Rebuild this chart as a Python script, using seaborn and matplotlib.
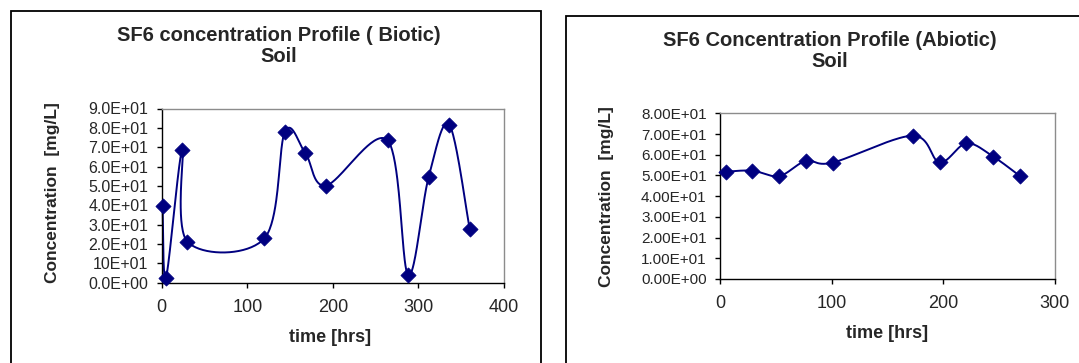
import numpy as np
import pandas as pd
import matplotlib
matplotlib.use("Agg")
import matplotlib.pyplot as plt
from matplotlib.patches import Rectangle
import seaborn as sns

# ---- data ----
biotic_time = [1, 5, 24, 30, 120, 144, 168, 192, 264, 288, 312, 336, 360]
biotic_conc = [39.6, 2.6, 68.8, 21.2, 22.9, 78.0, 66.8, 50.2, 73.5, 4.0, 54.7, 81.7, 27.5]

abiotic_time = [5, 29, 53, 77, 101, 173, 197, 221, 245, 269]
abiotic_conc = [51.8, 52.3, 49.7, 57.0, 56.2, 69.2, 56.3, 65.5, 59.1, 49.7]

biotic_yticks = [0, 10, 20, 30, 40, 50, 60, 70, 80, 90]
biotic_ylabels = ["0.0E+00", "10E+01", "2.0E+01", "3.0E+01", "4.0E+01", "5.0E+01",
                  "6.0E+01", "7.0E+01", "8.0E+01", "9.0E+01"]
abiotic_yticks = [0, 10, 20, 30, 40, 50, 60, 70, 80]
abiotic_ylabels = ["0.00E+00", "1.00E+01", "2.00E+01", "3.00E+01", "4.00E+01",
                   "5.00E+01", "6.00E+01", "7.00E+01", "8.00E+01"]
biotic_xticks = [0, 100, 200, 300, 400]
abiotic_xticks = [0, 100, 200, 300]

title_biotic = "SF6 concentration Profile ( Biotic)\nSoil"
title_abiotic = "SF6 Concentration Profile (Abiotic)\nSoil"
ylabel = "Concentration  [mg/L]"
xlabel = "time [hrs]"

NAVY = "#000080"

sns.set_theme(style="white")
plt.rcParams["font.family"] = ["Liberation Sans", "DejaVu Sans"]


def excel_smooth(xs, ys, n=40):
    """Excel-style smoothed line (cubic Bezier, Catmull-Rom control points)."""
    P = np.column_stack([xs, ys]).astype(float)
    m = len(P)
    out = []
    for i in range(m - 1):
        p0 = P[i - 1] if i > 0 else P[i]
        p1 = P[i]
        p2 = P[i + 1]
        p3 = P[i + 2] if i + 2 < m else P[i + 1]
        c1 = p1 + (p2 - p0) / 6.0
        c2 = p2 - (p3 - p1) / 6.0
        t = np.linspace(0, 1, n, endpoint=(i == m - 2))[:, None]
        seg = ((1 - t) ** 3) * p1 + 3 * ((1 - t) ** 2) * t * c1 + 3 * (1 - t) * t ** 2 * c2 + t ** 3 * p2
        out.append(seg)
    out = np.vstack(out)
    return pd.DataFrame({"x": out[:, 0], "y": out[:, 1], "order": np.arange(len(out))})


fig = plt.figure(figsize=(10.79, 3.63), dpi=100)
W, H = 1079.0, 363.0

# outer chart frames
fig.patches.append(Rectangle((10.5 / W, -0.01), (541 - 10.5) / W, (363 - 11) / H + 0.01,
                             transform=fig.transFigure, fill=False, edgecolor="black", lw=1.3))
fig.patches.append(Rectangle((566 / W, -0.01), (1085 - 566) / W, (363 - 15.5) / H + 0.01,
                             transform=fig.transFigure, fill=False, edgecolor="black", lw=1.3))


def make_panel(rect, t, c, xticks, yticks, ylabels, xlim, ylim, ytick_fs):
    ax = fig.add_axes(rect)
    curve = excel_smooth(t, c)
    sns.lineplot(data=curve, x="x", y="y", sort=False, estimator=None, color=NAVY,
                 lw=1.4, ax=ax, clip_on=False)
    sns.scatterplot(x=t, y=c, marker="D", s=60, color=NAVY, edgecolor=NAVY,
                    linewidth=0.5, ax=ax, zorder=5, clip_on=False)
    ax.set_xlim(*xlim)
    ax.set_ylim(*ylim)
    ax.set_xticks(xticks)
    ax.set_xticklabels([str(v) for v in xticks], fontsize=13)
    ax.set_yticks(yticks)
    ax.set_yticklabels(ylabels, fontsize=ytick_fs)
    ax.set_xlabel("")
    ax.set_ylabel("")
    for side in ["top", "right"]:
        ax.spines[side].set_color("#8c8c8c")
        ax.spines[side].set_linewidth(1.0)
    for side in ["left", "bottom"]:
        ax.spines[side].set_color("black")
        ax.spines[side].set_linewidth(1.0)
    ax.tick_params(axis="both", direction="out", length=3.6, width=1, color="black",
                   bottom=True, left=True)
    ax.tick_params(axis="y", pad=6)
    ax.tick_params(axis="x", pad=8)
    return ax


ax1 = make_panel([161.7 / W, 1 - 282.7 / H, (504 - 161.7) / W, (282.7 - 108.5) / H],
                 biotic_time, biotic_conc, biotic_xticks, biotic_yticks, biotic_ylabels,
                 (0, 400), (0, 90), 11.5)
ax2 = make_panel([720 / W, 1 - 279 / H, (1054.5 - 720) / W, (279 - 113.3) / H],
                 abiotic_time, abiotic_conc, abiotic_xticks, abiotic_yticks, abiotic_ylabels,
                 (0, 300), (0, 80), 11)

# titles and axis labels
fig.text(279 / W, 1 - 46 / H, title_biotic, ha="center", va="center", fontsize=14.5,
         fontweight="bold", linespacing=1.15)
fig.text(830 / W, 1 - 51 / H, title_abiotic, ha="center", va="center", fontsize=14.5,
         fontweight="bold", linespacing=1.15)
fig.text(53 / W, 1 - 193 / H, ylabel, rotation=90, ha="center", va="center",
         fontsize=12.5, fontweight="bold")
fig.text(607 / W, 1 - 197 / H, ylabel, rotation=90, ha="center", va="center",
         fontsize=12.5, fontweight="bold")
fig.text(330.5 / W, 1 - 338 / H, xlabel, ha="center", va="center", fontsize=13,
         fontweight="bold")
fig.text(887 / W, 1 - 333 / H, xlabel, ha="center", va="center", fontsize=13,
         fontweight="bold")

fig.savefig("out.png", dpi=100, facecolor="white")
